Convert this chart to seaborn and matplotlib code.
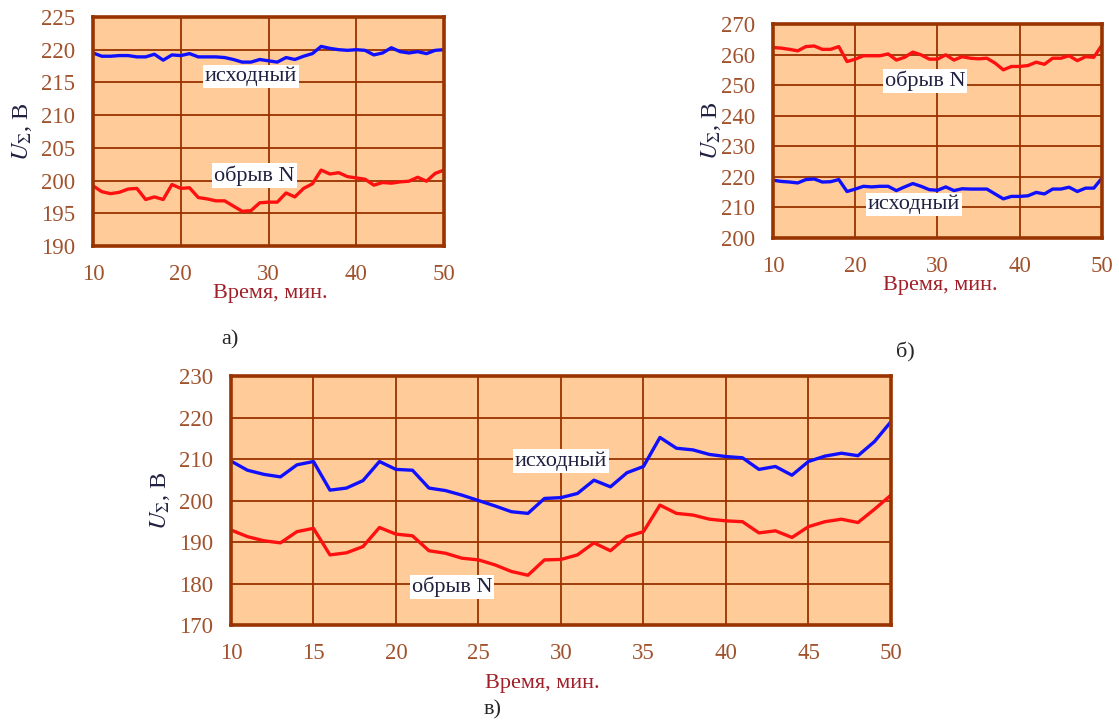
import numpy as np
import pandas as pd
import matplotlib
matplotlib.use("Agg")
import matplotlib.pyplot as plt
import seaborn as sns

# --- Data ---
minutes = list(range(10, 51))

# panel а)
a_base = [219.5, 219.0, 219.0, 219.1, 219.1, 218.9, 218.9, 219.3, 218.4, 219.2,
          219.1, 219.4, 218.9, 218.9, 218.9, 218.8, 218.5, 218.1, 218.1, 218.5,
          218.3, 218.1, 218.8, 218.5, 219.0, 219.4, 220.5, 220.2, 220.0, 219.9,
          220.0, 219.9, 219.2, 219.5, 220.3, 219.7, 219.5, 219.7, 219.4, 219.9,
          220.0]
a_break = [199.2, 198.3, 198.0, 198.2, 198.7, 198.8, 197.1, 197.5, 197.1, 199.4,
           198.8, 198.9, 197.4, 197.2, 196.9, 196.9, 196.1, 195.3, 195.4, 196.6,
           196.7, 196.7, 198.1, 197.5, 198.8, 199.5, 201.6, 201.0, 201.2, 200.6,
           200.4, 200.2, 199.3, 199.7, 199.6, 199.8, 199.9, 200.5, 199.9, 201.1,
           201.6]

# panel б)
b_base = [218.9, 218.5, 218.3, 218.0, 219.1, 219.3, 218.3, 218.4, 219.1, 215.2,
          216.0, 216.9, 216.7, 216.9, 216.9, 215.5, 216.7, 217.8, 216.9, 215.8,
          215.6, 216.7, 215.5, 216.1, 216.0, 216.0, 216.0, 214.4, 212.8, 213.6,
          213.6, 213.8, 214.9, 214.4, 216.0, 216.0, 216.6, 215.2, 216.3, 216.3,
          219.6]
b_break = [262.3, 262.1, 261.7, 261.2, 262.6, 262.8, 261.7, 261.7, 262.6, 257.7,
           258.5, 259.6, 259.6, 259.6, 260.2, 258.2, 259.1, 260.8, 259.9, 258.5,
           258.5, 259.9, 258.2, 259.3, 258.8, 258.6, 258.8, 257.2, 255.0, 256.1,
           256.1, 256.4, 257.5, 256.8, 258.8, 258.8, 259.6, 258.0, 259.3, 259.1,
           263.1]

# panel в)
c_base = [209.5, 207.3, 206.3, 205.7, 208.6, 209.4, 202.5, 203.0, 204.8, 209.4,
          207.5, 207.3, 203.0, 202.4, 201.3, 200.0, 198.7, 197.3, 196.9, 200.5,
          200.7, 201.7, 204.9, 203.3, 206.7, 208.2, 215.2, 212.6, 212.2, 211.1,
          210.6, 210.3, 207.5, 208.2, 206.1, 209.4, 210.7, 211.4, 210.8, 214.2,
          219.0]
c_break = [192.9, 191.3, 190.3, 189.8, 192.5, 193.3, 186.9, 187.4, 188.9, 193.5,
           191.9, 191.5, 187.9, 187.3, 186.1, 185.7, 184.5, 182.9, 182.0, 185.7,
           185.8, 186.9, 189.8, 187.9, 191.3, 192.5, 198.9, 196.9, 196.5, 195.5,
           195.1, 194.9, 192.2, 192.7, 191.1, 193.7, 194.9, 195.5, 194.7, 197.9,
           201.3]

LBL_BASE = "исходный"
LBL_BREAK = "обрыв N"

# --- Style ---
BG = "#FFCC99"
BROWN = "#993300"
TICK_COLOR = "#A0522D"
XLABEL_COLOR = "#A0202A"
BLUE = "#1010FF"
RED = "#FF1010"

sns.set_style("white")
plt.rcParams["font.family"] = ["Liberation Serif", "DejaVu Serif"]
plt.rcParams["mathtext.fontset"] = "stix"

fig = plt.figure(figsize=(11.19, 7.22), dpi=100)


def make_panel(rect, base, brk, yticks, xticks, base_pos, brk_pos,
               xlabel_xy, ylabel_xy):
    ax = fig.add_axes(rect)
    df = pd.DataFrame({"t": minutes, "base": base, "brk": brk})
    sns.lineplot(data=df, x="t", y="base", color=BLUE, lw=2.4, ax=ax)
    sns.lineplot(data=df, x="t", y="brk", color=RED, lw=2.4, ax=ax)

    ax.set_facecolor(BG)
    ax.set_xlim(xticks[0], xticks[-1])
    ax.set_ylim(yticks[0], yticks[-1])
    ax.set_xticks(xticks)
    ax.set_yticks(yticks)
    ax.grid(True, color=BROWN, lw=1.3)
    ax.set_axisbelow(True)
    for sp in ax.spines.values():
        sp.set_color(BROWN)
        sp.set_linewidth(2.6)
    ax.tick_params(length=0, pad=13, labelsize=16.5, colors=TICK_COLOR)

    box = dict(facecolor="white", edgecolor="none", pad=1.5)
    ax.text(*base_pos, LBL_BASE, fontsize=16, ha="center", va="center",
            color="#202040", bbox=box)
    ax.text(*brk_pos, LBL_BREAK, fontsize=16, ha="center", va="center",
            color="#202040", bbox=box)

    ax.set_xlabel("Время, мин.", fontsize=16, color=XLABEL_COLOR)
    ax.xaxis.set_label_coords(*xlabel_xy)
    ax.set_ylabel(r"$U_{\Sigma}$, В", fontsize=17.5, color="#202040")
    ax.yaxis.set_label_coords(*ylabel_xy)
    return ax


make_panel([0.0831, 0.6593, 0.3137, 0.3172], a_base, a_break,
           list(range(190, 226, 5)), [10, 20, 30, 40, 50],
           (28.0, 215.9), (28.4, 200.8), (0.504, -0.165), (-0.168, 0.5))
make_panel([0.6908, 0.6704, 0.2940, 0.2964], b_base, b_break,
           list(range(200, 271, 10)), [10, 20, 30, 40, 50],
           (27.1, 210.9), (28.5, 251.4), (0.508, -0.178), (-0.153, 0.5))
make_panel([0.2064, 0.1343, 0.5898, 0.3449], c_base, c_break,
           list(range(170, 231, 10)), list(range(10, 51, 5)),
           (30.0, 209.5), (23.4, 179.2), (0.471, -0.197), (-0.09, 0.5))

fig.text(230 / 1119, 1 - 340 / 722, "а)", fontsize=16, ha="center", va="center")
fig.text(905 / 1119, 1 - 352 / 722, "б)", fontsize=16, ha="center", va="center")
fig.text(493 / 1119, 1 - 710 / 722, "в)", fontsize=16, ha="center", va="center")

fig.savefig("out.png", dpi=100, facecolor="white")
